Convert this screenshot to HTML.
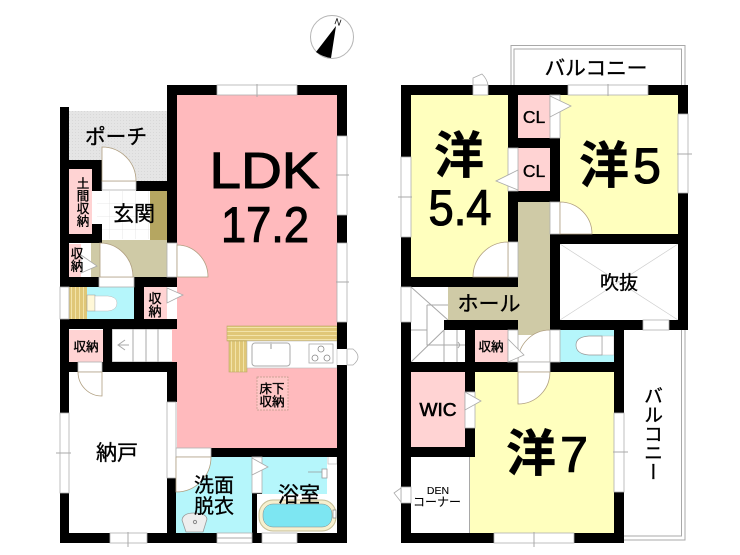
<!DOCTYPE html>
<html lang="ja"><head><meta charset="utf-8"><title>間取り図</title>
<style>
html,body{margin:0;padding:0;background:#fff}
body{width:740px;height:555px;overflow:hidden;position:relative}
svg{position:absolute;left:0;top:0}
text{font-family:"Liberation Sans","Noto Sans CJK JP",sans-serif;fill:#000;stroke:#000;stroke-width:.35;text-anchor:middle}
.b{font-weight:700}
.h{stroke-width:1.1}
.l{fill:none;stroke:#a8a8a8;stroke-width:1}
.w{fill:#fff;stroke:#b0b0b0;stroke-width:.8}
.d{fill:#fff;stroke:#b09f80;stroke-width:.8}
.t{fill:#fff;stroke:#aaa;stroke-width:.8}
.v{position:absolute;writing-mode:vertical-rl;font-family:"Liberation Sans","Noto Sans CJK JP",sans-serif;color:#000;line-height:1;white-space:nowrap;-webkit-text-stroke:.35px #000}
</style></head><body>
<svg width="740" height="555" viewBox="0 0 740 555" xmlns="http://www.w3.org/2000/svg">
<defs>
<pattern id="tile" width="13" height="13" patternUnits="userSpaceOnUse" x="97" y="191"><rect width="13" height="13" fill="#fff"/><path d="M13 0V13H0" fill="none" stroke="#e2e2e2" stroke-width=".8"/></pattern>
<pattern id="dots" width="3" height="3" patternUnits="userSpaceOnUse"><rect width="3" height="3" fill="#e5e5e5"/><rect width="1" height="1" fill="#d8d8d8"/></pattern>
<pattern id="wh" width="4" height="4" patternUnits="userSpaceOnUse"><rect width="4" height="4" fill="#e0c777"/><rect y="3" width="4" height="1" fill="#f2e3a8"/></pattern>
<pattern id="wv" width="4" height="4" patternUnits="userSpaceOnUse"><rect width="4" height="4" fill="#e0c777"/><rect x="3" width="1" height="4" fill="#f2e3a8"/></pattern>
</defs>

<!-- compass -->
<circle cx="332" cy="37" r="21.5" fill="#fff" stroke="#b5b5b5" stroke-width="1"/>
<path d="M336 26L316 52Q323 57 331 58Z" fill="#000"/>
<text x="338" y="25" font-size="9" transform="rotate(20 338 22)" style="stroke-width:0">N</text>

<!-- LEFT FLOOR fills -->
<rect x="69" y="111" width="98" height="70" fill="url(#dots)"/>
<rect x="177" y="95" width="160" height="353" fill="#ffbabd"/>
<rect x="172" y="329" width="6" height="33" fill="#ffbabd"/>
<rect x="97" y="191" width="53" height="48" fill="url(#tile)"/>
<rect x="150" y="191" width="17" height="49" fill="#b5a661"/>
<rect x="69" y="169" width="23" height="65" fill="#ffd3d3"/>
<rect x="91" y="240" width="76" height="37" fill="#cfcaa6"/>
<rect x="69" y="244" width="12" height="33" fill="#ffd3d3"/>
<rect x="81" y="244" width="10" height="33" fill="#fff"/>
<rect x="69" y="287" width="18" height="32" fill="url(#wv)"/>
<rect x="87" y="287" width="47" height="32" fill="#b5f6fb"/>
<rect x="144" y="287" width="23" height="32" fill="#ffd3d3"/>
<rect x="167" y="287" width="9" height="32" fill="#fff"/>
<rect x="69" y="330" width="34" height="32" fill="#ffd3d3"/>
<rect x="112" y="329" width="60" height="33" fill="#fff"/>
<rect x="69" y="372" width="98" height="161" fill="#fff"/>
<rect x="176" y="457" width="76" height="76" fill="#b5f6fb"/>
<rect x="262" y="457" width="65" height="37" fill="#b5f6fb"/>
<rect x="257" y="494" width="80" height="39" fill="#fff"/>
<rect x="327" y="457" width="10" height="37" fill="#fff"/>

<!-- kitchen -->
<rect x="227" y="326" width="110" height="15" fill="url(#wh)" stroke="#b9a868" stroke-width=".6"/>
<rect x="229" y="341" width="18" height="31" fill="url(#wv)" stroke="#b9a868" stroke-width=".6"/>
<rect x="247" y="341" width="90" height="27" fill="#fff" stroke="#bbb" stroke-width=".6"/>
<rect x="252" y="343" width="38" height="23" rx="3" fill="#fff" stroke="#aaa"/>
<rect x="270" y="342" width="2" height="7" fill="#ccc"/>
<rect x="309" y="344" width="24" height="19" fill="#fff" stroke="#aaa" stroke-width=".8"/>
<circle cx="321" cy="349" r="3" fill="none" stroke="#888" stroke-width=".8"/><circle cx="315" cy="358" r="3" fill="none" stroke="#888" stroke-width=".8"/><circle cx="327" cy="358" r="3" fill="none" stroke="#888" stroke-width=".8"/>
<rect x="257" y="377" width="31" height="33" fill="#ffc6c6" stroke="#b98" stroke-width=".7" stroke-dasharray="2 1"/>

<!-- stairs left -->
<path class="l" d="M112 329V362M133 329V362M146 329V362M158 329V362M112 329H172M112 362H172M118 345H129M125 340L118 345L125 350" stroke-width=".7"/>

<!-- toilet left -->
<path d="M87 295H95V311H87Z" fill="#fff8d8" stroke="#999" stroke-width=".6"/>
<path d="M95 296H108Q117 297 117 303Q117 310 108 311H95Z" fill="#fff" stroke="#bbb" stroke-width=".5"/>

<!-- bath -->
<rect x="259" y="500" width="77" height="31" rx="14" fill="#f6f0cf" stroke="#c5bd95"/>
<rect x="263" y="504" width="69" height="23" rx="10" fill="#7de6f2" stroke="#888" stroke-width=".5"/>
<path d="M182 520Q183 513 194 513Q206 513 207 519L203 532H186Z" fill="#eee" stroke="#999" stroke-width=".8"/><circle cx="195" cy="522" r="1.6" fill="none" stroke="#888"/>
<path d="M308 472H322M322 469H327V478H322Z" fill="#fff" stroke="#999" stroke-width=".8"/>
<path d="M333 510h3v8h-3z" fill="#fff" stroke="#888" stroke-width=".7"/>
<rect x="328" y="453" width="9" height="11" fill="#fff" stroke="#bbb" stroke-width=".7"/>

<!-- left walls -->
<g fill="#000">
<rect x="60" y="107" width="9" height="180"/>
<rect x="60" y="160" width="42" height="9"/>
<rect x="92" y="160" width="10" height="31"/>
<rect x="136" y="181" width="41" height="10"/>
<rect x="92" y="224" width="10" height="19"/>
<rect x="60" y="234" width="42" height="9"/>
<rect x="167" y="85" width="10" height="158"/>
<rect x="167" y="85" width="50" height="10"/>
<rect x="297" y="85" width="50" height="10"/>
<rect x="337" y="85" width="10" height="51"/>
<rect x="337" y="215" width="10" height="28"/>
<rect x="337" y="322" width="10" height="27"/>
<rect x="337" y="365" width="10" height="178"/>
<rect x="60" y="277" width="39" height="10"/>
<rect x="134" y="277" width="43" height="10"/>
<rect x="134" y="287" width="10" height="33"/>
<rect x="60" y="319" width="117" height="10"/>
<rect x="60" y="329" width="9" height="84"/>
<rect x="60" y="493" width="9" height="50"/>
<rect x="103" y="329" width="9" height="43"/>
<rect x="60" y="362" width="18" height="10"/>
<rect x="102" y="362" width="75" height="10"/>
<rect x="167" y="372" width="10" height="30"/>
<rect x="171" y="440" width="5" height="38"/>
<rect x="167" y="478" width="9" height="55"/>
<rect x="60" y="533" width="50" height="10"/>
<rect x="147" y="533" width="70" height="10"/>
<rect x="252" y="533" width="10" height="10"/>
<rect x="297" y="533" width="50" height="10"/>
<rect x="211" y="448" width="126" height="9"/>
<rect x="252" y="493" width="5" height="40"/>
<rect x="252" y="493" width="10" height="1"/>
</g>

<!-- left windows / doors -->
<rect class="w" x="217" y="85" width="80" height="10"/><path class="l" d="M257 84V97"/>
<rect class="w" x="337" y="136" width="10" height="79"/><path class="l" d="M336 175H349"/>
<rect class="w" x="337" y="243" width="10" height="79"/><path class="l" d="M336 282H349"/>
<path class="t" d="M347 349H353Q358 353 358 357Q358 361 353 365H347Z"/>
<rect class="w" x="60" y="287" width="9" height="32"/>
<rect class="w" x="60" y="413" width="9" height="80"/><path class="l" d="M56 453H71"/>
<rect class="w" x="110" y="533" width="37" height="10"/><path class="l" d="M128 532V547"/>
<rect class="w" x="217" y="533" width="35" height="10"/><path class="l" d="M217 538H252"/>
<rect class="w" x="262" y="533" width="35" height="10"/>
<rect class="w" x="167" y="402" width="9" height="76"/>
<rect class="w" x="102" y="181" width="34" height="9"/>
<path class="d" d="M102 147A34 34 0 0 1 136 181H102Z"/>
<rect class="w" x="99" y="277" width="35" height="10"/>
<path class="d" d="M100 243A33 34 0 0 1 133 277H100Z"/>
<rect class="w" x="167" y="243" width="10" height="34"/>
<path class="d" d="M177 245A31 32 0 0 1 208 277H177Z"/>
<path class="t" d="M81 255L97 266L81 273Z"/>
<path class="t" d="M167 288L183 295L167 303Z"/>
<rect class="w" x="78" y="362" width="24" height="10"/>
<path class="d" d="M78 372A24 24 0 0 0 102 396V372Z"/>
<rect class="w" x="176" y="448" width="35" height="9"/>
<path class="d" d="M176 457H211A35 35 0 0 1 176 492Z"/>
<rect class="w" x="252" y="457" width="10" height="36"/>
<path class="t" d="M252 458L268 467L252 475Z"/>

<!-- RIGHT FLOOR -->
<path class="l" d="M511 85V45.5H685V540H624M514 85V49H681.5V536H624" stroke="#bbb"/>
<rect x="411" y="95" width="97" height="182" fill="#ffffbe"/>
<rect x="518" y="95" width="32" height="43" fill="#ffd3d3"/>
<rect x="518" y="148" width="32" height="43" fill="#ffd3d3"/>
<rect x="560" y="95" width="118" height="139" fill="#ffffbe"/>
<rect x="518" y="202" width="32" height="128" fill="#cfcaa6"/>
<rect x="448" y="287" width="102" height="33" fill="#cfcaa6"/>
<rect x="518" y="320" width="32" height="15" fill="#cfcaa6"/>
<rect x="560" y="244" width="118" height="76" fill="#fff"/>
<path d="M560 244L678 320M678 244L560 320" fill="none" stroke="#cfcfcf" stroke-width=".7"/>
<rect x="560" y="330" width="54" height="32" fill="#b5f6fb"/>
<rect x="475" y="330" width="33" height="32" fill="#ffd3d3"/>
<rect x="411" y="372" width="54" height="75" fill="#ffd3d3"/>
<rect x="470" y="372" width="144" height="161" fill="#ffffbe"/>
<rect x="411" y="457" width="58" height="76" fill="#fff"/>
<path class="l" d="M469.5 457V533"/>

<!-- stairs right -->
<path class="l" d="M411 287L448 320M411 362L444 330M427 305V345H465M427 305H448M444 330V362M457 330V362M427 345H458M458 342L460 345L458 348M411 330H427" stroke-width=".7"/>

<!-- toilet right -->
<path d="M602 336H614V355H602Z" fill="#fff" stroke="#bbb" stroke-width=".6"/>
<path d="M602 336H589Q576 337 576 345Q576 354 589 355H602Z" fill="#fff" stroke="#999" stroke-width=".7"/>

<g fill="#000">
<rect x="401" y="85" width="287" height="10"/>
<rect x="401" y="85" width="10" height="72"/>
<rect x="401" y="237" width="10" height="50"/>
<rect x="401" y="277" width="117" height="10"/>
<rect x="508" y="85" width="10" height="63"/>
<rect x="508" y="191" width="10" height="51"/>
<rect x="508" y="138" width="52" height="10"/>
<rect x="550" y="138" width="10" height="64"/>
<rect x="508" y="191" width="52" height="11"/>
<rect x="678" y="85" width="10" height="29"/>
<rect x="678" y="193" width="10" height="137"/>
<rect x="550" y="234" width="138" height="10"/>
<rect x="550" y="234" width="10" height="96"/>
<rect x="550" y="320" width="93" height="10"/>
<rect x="669" y="320" width="19" height="10"/>
<rect x="444" y="320" width="74" height="10"/>
<rect x="401" y="322" width="10" height="165"/>
<rect x="401" y="503" width="10" height="40"/>
<rect x="465" y="330" width="10" height="62"/>
<rect x="401" y="362" width="117" height="10"/>
<rect x="550" y="362" width="74" height="10"/>
<rect x="614" y="330" width="10" height="83"/>
<rect x="614" y="492" width="10" height="51"/>
<rect x="465" y="428" width="10" height="29"/>
<rect x="401" y="447" width="74" height="10"/>
<rect x="401" y="533" width="93" height="10"/>
<rect x="574" y="533" width="50" height="10"/>
</g>

<rect class="w" x="473" y="85" width="15" height="10"/>
<path class="t" d="M473 85V78L482 74Q487 79 488 85Z"/>
<rect class="w" x="568" y="85" width="80" height="10"/><path class="l" d="M608 84V96"/>
<rect class="w" x="550" y="95" width="10" height="43"/>
<path class="t" d="M550 96L571 106L550 117Z"/>
<rect class="w" x="678" y="114" width="10" height="79"/><path class="l" d="M677 154H692"/>
<rect class="w" x="401" y="157" width="10" height="80"/><path class="l" d="M398 197H412"/>
<rect class="w" x="508" y="148" width="10" height="43"/>
<path class="t" d="M518 170L496 181L518 190Z"/>
<rect class="w" x="508" y="242" width="10" height="35"/>
<path class="d" d="M508 242A35 35 0 0 0 473 277H508Z"/>
<rect class="w" x="550" y="202" width="10" height="32"/>
<path class="d" d="M560 202A32 32 0 0 1 592 234H560Z"/>
<rect class="w" x="643" y="320" width="26" height="10"/>
<rect class="w" x="401" y="287" width="10" height="35"/>
<path class="d" d="M550 330A32 32 0 0 0 518 362H550Z"/>
<rect class="w" x="550" y="330" width="10" height="32"/>
<rect class="t" x="508" y="330" width="10" height="32"/>
<path class="t" d="M508 339L524 355L508 362Z"/>
<rect class="w" x="518" y="362" width="32" height="10"/>
<path class="d" d="M518 372H550A32 32 0 0 1 518 404Z"/>
<rect class="w" x="465" y="392" width="10" height="36"/>
<path class="t" d="M465 392L481 401L465 410Z"/>
<rect class="w" x="614" y="413" width="10" height="79"/><path class="l" d="M613 452H628"/>
<rect class="w" x="401" y="487" width="10" height="16"/>
<path class="t" d="M401 488L394 493L401 502Z"/>
<rect class="w" x="494" y="533" width="80" height="10"/><path class="l" d="M534 532V547"/>

<!-- labels left -->
<text x="116" y="144" font-size="21" lengthAdjust="spacingAndGlyphs" textLength="62">ポーチ</text>
<text x="134" y="221" font-size="21">玄関</text>
<text x="155" y="303" font-size="13">収</text><text x="155" y="316" font-size="13">納</text>
<text x="86" y="351" font-size="12.5">収納</text>
<text x="117" y="460" font-size="21">納戸</text>
<text x="214" y="492" font-size="20">洗面</text>
<text x="214" y="513" font-size="20">脱衣</text>
<text x="299" y="502" font-size="21">浴室</text>
<text x="272" y="393" font-size="12.5">床下</text>
<text x="272" y="406" font-size="12.5">収納</text>
<text class="h" x="264.5" y="188" font-size="51" textLength="110" lengthAdjust="spacingAndGlyphs">LDK</text>
<text class="h" x="265" y="242" font-size="50" textLength="88" lengthAdjust="spacingAndGlyphs">17.2</text>

<!-- labels right -->
<text x="596" y="75" font-size="20" textLength="103" lengthAdjust="spacingAndGlyphs">バルコニー</text>
<text x="459" y="173" font-size="50" class="b">洋</text>
<text class="h" x="460" y="225" font-size="50" textLength="63" lengthAdjust="spacingAndGlyphs">5.4</text>
<text x="604" y="183" font-size="50" class="b">洋</text>
<text class="h" x="647" y="183" font-size="50">5</text>
<text x="534" y="123" font-size="17.5">CL</text>
<text x="534" y="177" font-size="17.5">CL</text>
<text x="619" y="289" font-size="19">吹抜</text>
<text x="489" y="311" font-size="21">ホール</text>
<text x="491" y="351" font-size="12.5">収納</text>
<text x="438" y="416" font-size="18" textLength="37" lengthAdjust="spacingAndGlyphs" style="stroke-width:.6">WIC</text>
<text x="531" y="471" font-size="50" class="b">洋</text>
<text class="h" x="574" y="472" font-size="50">7</text>
<text x="438" y="494" font-size="10.5" style="stroke-width:.1">DEN</text>
<text x="437" y="506" font-size="12" textLength="48" lengthAdjust="spacingAndGlyphs" style="stroke-width:.1">コーナー</text>
</svg>
<div class="v" style="left:75px;top:177px;font-size:12.5px">土間収納</div>
<div class="v" style="left:69px;top:247px;font-size:12.5px">収納</div>
<div class="v" style="left:642px;top:386px;font-size:19px">バルコニー</div>
</body></html>
